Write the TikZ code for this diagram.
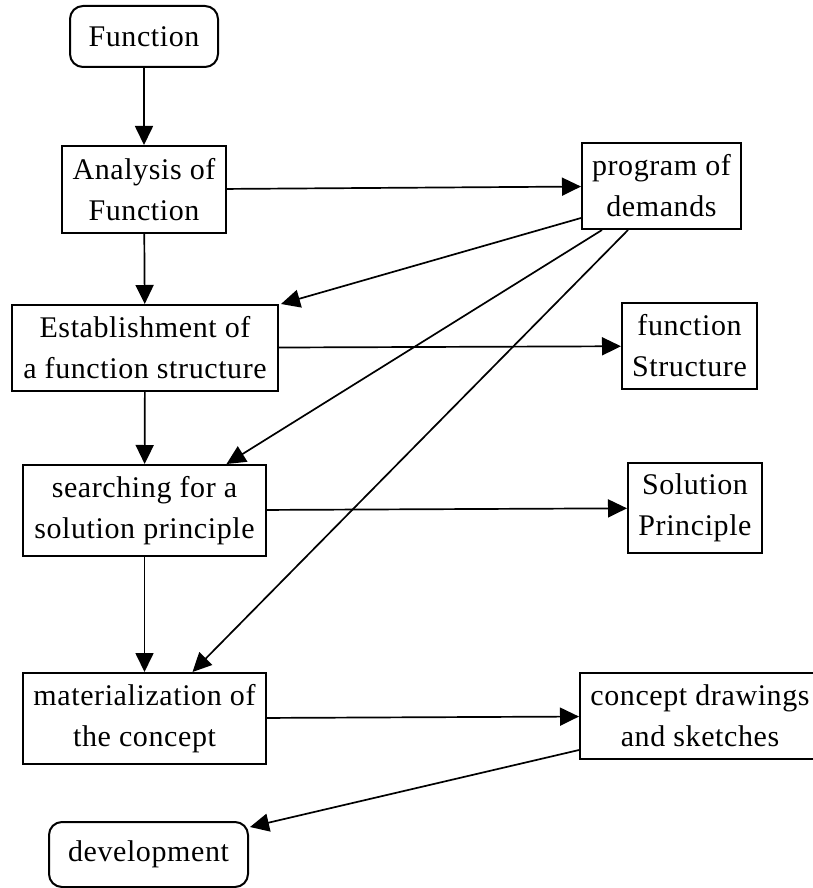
\documentclass[tikz,border=0pt]{standalone}
\usepackage{fontspec}
\setmainfont{Liberation Serif}[LetterSpace=2]
\usetikzlibrary{arrows.meta}
\begin{document}
\begin{tikzpicture}[x=1pt,y=1pt,
  every node/.style={font=\fontsize{30}{41}\selectfont, align=center, inner sep=0pt, text=black},
  stepbox/.style={draw=black, line width=2pt, rectangle},
  termbox/.style={draw=black, line width=2pt, rectangle, rounded corners=13pt},
  flow/.style={draw=black, line width=1.7pt, -{Triangle[length=19pt,width=18pt]}}]
\useasboundingbox (0,0) rectangle (813,-888);
\begin{scope}
\clip (0,0) rectangle (813,-888);
% left column
\node[termbox, minimum width=148pt, minimum height=61pt] (fun) at (144,-36.5) {Function};
\node[stepbox, minimum width=164pt, minimum height=87pt] (ana) at (144,-189.5) {Analysis of\\Function};
\node[stepbox, minimum width=266pt, minimum height=86pt] (est) at (145,-348) {Establishment of\\a function structure};
\node[stepbox, minimum width=243pt, minimum height=91pt] (srch) at (144.5,-510.5) {searching for a\\solution principle};
\node[stepbox, minimum width=243pt, minimum height=91pt] (mat) at (144.5,-718.5) {materialization of\\the concept};
\node[termbox, minimum width=199pt, minimum height=65pt] (dev) at (148.5,-854.5) {development};
% right column
\node[stepbox, minimum width=159pt, minimum height=86pt] (prog) at (661.5,-186) {program of\\demands};
\node[stepbox, minimum width=135pt, minimum height=86pt] (fstr) at (689.5,-346) {function\\Structure};
\node[stepbox, minimum width=134pt, minimum height=90pt] (sprin) at (695,-508) {Solution\\Principle};
\node[stepbox, minimum width=240pt, minimum height=86pt] (cdraw) at (700,-716) {concept drawings\\and sketches};
% main sequence
\draw[flow] (fun) -- (ana);
\draw[flow] (ana) -- (est);
\draw[flow] (est) -- (srch);
\draw[flow] (srch) -- (mat);
% results of each step
\draw[flow] (ana) -- (prog);
\draw[flow] (est) -- (fstr);
\draw[flow] (srch) -- (sprin);
\draw[flow] (mat) -- (cdraw);
% demands feed back into later steps
\draw[flow] ([yshift=12pt]prog.south west) -- ([xshift=2pt]est.north east);
\draw[flow] ([xshift=21pt]prog.south west) -- ([xshift=82pt]srch.north);
\draw[flow] ([xshift=47pt]prog.south west) -- ([xshift=48pt]mat.north);
\draw[flow] ([yshift=10pt]cdraw.south west) -- ([xshift=1pt,yshift=-6pt]dev.north east);
\end{scope}
\end{tikzpicture}
\end{document}
